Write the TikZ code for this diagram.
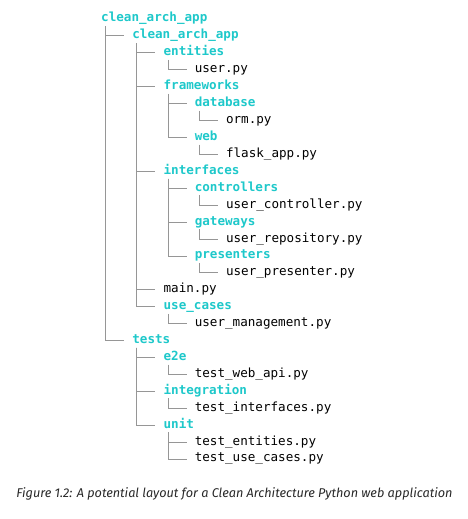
\documentclass[tikz,border=0pt]{standalone}
\usepackage{fontspec}
\setmonofont{DejaVu Sans Mono}
\setsansfont{Fira Sans}
\usepackage{tikz}
\usetikzlibrary{positioning}
\definecolor{dircyan}{RGB}{30,200,202}
\definecolor{branchgray}{RGB}{150,150,150}
\definecolor{capgray}{RGB}{40,40,40}
\tikzstyle{item}=[anchor=base west, inner sep=0pt, text height=9pt, text depth=3pt, font=\ttfamily\fontsize{12.6}{14}\selectfont]
\tikzstyle{folder}=[item, text=dircyan, font=\ttfamily\bfseries\fontsize{12.6}{14}\selectfont]
\tikzstyle{file}=[item, text=black]
\tikzstyle{branch}=[draw=branchgray, line width=0.8pt]

\begin{document}
\begin{tikzpicture}[x=1pt, y=-1pt]
    \useasboundingbox (0,0) rectangle (468,519);
    % level 0 and 1
    \node (root) [folder] at (101,22) {clean\_arch\_app};
    \node (app) [folder] at (132.2,38.9) {clean\_arch\_app};
    % entities
    \node (ent) [folder] at (163.4,55.8) {entities};
    \node (userpy) [file] at (194.6,72.8) {user.py};
    % frameworks
    \node (fw) [folder] at (163.4,89.7) {frameworks};
    \node (db) [folder] at (194.6,106.6) {database};
    \node (orm) [file] at (225.8,123.5) {orm.py};
    \node (web) [folder] at (194.6,140.4) {web};
    \node (flask) [file] at (225.8,157.4) {flask\_app.py};
    % interfaces
    \node (intf) [folder] at (163.4,174.3) {interfaces};
    \node (ctrl) [folder] at (194.6,191.2) {controllers};
    \node (userctrl) [file] at (225.8,208.1) {user\_controller.py};
    \node (gw) [folder] at (194.6,225) {gateways};
    \node (userrepo) [file] at (225.8,242) {user\_repository.py};
    \node (pres) [folder] at (194.6,258.9) {presenters};
    \node (userpres) [file] at (225.8,275.8) {user\_presenter.py};
    % main and use cases
    \node (mainpy) [file] at (163.4,292.7) {main.py};
    \node (uc) [folder] at (163.4,309.6) {use\_cases};
    \node (usermgmt) [file] at (194.6,326.6) {user\_management.py};
    % tests
    \node (tests) [folder] at (132.2,343.5) {tests};
    \node (etoe) [folder] at (163.4,360.4) {e2e};
    \node (webapi) [file] at (194.6,377.3) {test\_web\_api.py};
    \node (integ) [folder] at (163.4,394.2) {integration};
    \node (testintf) [file] at (194.6,411.2) {test\_interfaces.py};
    \node (unit) [folder] at (163.4,428.1) {unit};
    \node (testent) [file] at (194.6,445) {test\_entities.py};
    \node (testuc) [file] at (194.6,461.9) {test\_use\_cases.py};

    \node (caption) [text=capgray, font=\sffamily\itshape\fontsize{12.7}{15}\selectfont] at (234.5,494) {Figure 1.2: A potential layout for a Clean Architecture Python web application};

    \draw[branch] ([xshift=4.5pt,yshift=-1pt]root.south west) |- ([xshift=-8pt]app.west);
    \draw[branch] ([xshift=4.5pt,yshift=-1pt]root.south west) |- ([xshift=-8pt]tests.west);
    \draw[branch] ([xshift=4.5pt,yshift=-1pt]app.south west) |- ([xshift=-8pt]ent.west);
    \draw[branch] ([xshift=4.5pt,yshift=-1pt]app.south west) |- ([xshift=-8pt]fw.west);
    \draw[branch] ([xshift=4.5pt,yshift=-1pt]app.south west) |- ([xshift=-8pt]intf.west);
    \draw[branch] ([xshift=4.5pt,yshift=-1pt]app.south west) |- ([xshift=-8pt]mainpy.west);
    \draw[branch] ([xshift=4.5pt,yshift=-1pt]app.south west) |- ([xshift=-8pt]uc.west);
    \draw[branch] ([xshift=4.5pt,yshift=-1pt]ent.south west) |- ([xshift=-8pt]userpy.west);
    \draw[branch] ([xshift=4.5pt,yshift=-1pt]fw.south west) |- ([xshift=-8pt]db.west);
    \draw[branch] ([xshift=4.5pt,yshift=-1pt]fw.south west) |- ([xshift=-8pt]web.west);
    \draw[branch] ([xshift=4.5pt,yshift=-1pt]db.south west) |- ([xshift=-8pt]orm.west);
    \draw[branch] ([xshift=4.5pt,yshift=-1pt]web.south west) |- ([xshift=-8pt]flask.west);
    \draw[branch] ([xshift=4.5pt,yshift=-1pt]intf.south west) |- ([xshift=-8pt]ctrl.west);
    \draw[branch] ([xshift=4.5pt,yshift=-1pt]intf.south west) |- ([xshift=-8pt]gw.west);
    \draw[branch] ([xshift=4.5pt,yshift=-1pt]intf.south west) |- ([xshift=-8pt]pres.west);
    \draw[branch] ([xshift=4.5pt,yshift=-1pt]ctrl.south west) |- ([xshift=-8pt]userctrl.west);
    \draw[branch] ([xshift=4.5pt,yshift=-1pt]gw.south west) |- ([xshift=-8pt]userrepo.west);
    \draw[branch] ([xshift=4.5pt,yshift=-1pt]pres.south west) |- ([xshift=-8pt]userpres.west);
    \draw[branch] ([xshift=4.5pt,yshift=-1pt]uc.south west) |- ([xshift=-8pt]usermgmt.west);
    \draw[branch] ([xshift=4.5pt,yshift=-1pt]tests.south west) |- ([xshift=-8pt]etoe.west);
    \draw[branch] ([xshift=4.5pt,yshift=-1pt]tests.south west) |- ([xshift=-8pt]integ.west);
    \draw[branch] ([xshift=4.5pt,yshift=-1pt]tests.south west) |- ([xshift=-8pt]unit.west);
    \draw[branch] ([xshift=4.5pt,yshift=-1pt]etoe.south west) |- ([xshift=-8pt]webapi.west);
    \draw[branch] ([xshift=4.5pt,yshift=-1pt]integ.south west) |- ([xshift=-8pt]testintf.west);
    \draw[branch] ([xshift=4.5pt,yshift=-1pt]unit.south west) |- ([xshift=-8pt]testent.west);
    \draw[branch] ([xshift=4.5pt,yshift=-1pt]unit.south west) |- ([xshift=-8pt]testuc.west);
\end{tikzpicture}
\end{document}
